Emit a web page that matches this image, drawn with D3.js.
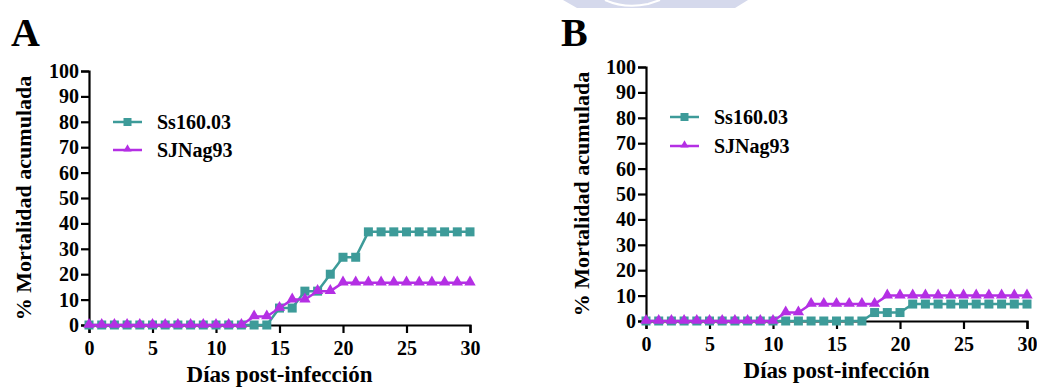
<!DOCTYPE html>
<html>
<head>
<meta charset="utf-8">
<script src="https://cdn.jsdelivr.net/npm/d3@7"></script>
<style>
  body { margin: 0; background: #fff; }
  svg text { font-family: "Liberation Serif", "Times New Roman", serif; font-weight: bold; fill: #000; }
</style>
</head>
<body>
<div id="chart"></div>
<script>
"use strict";

// data (cumulative % mortality per day)
var days = [0,1,2,3,4,5,6,7,8,9,10,11,12,13,14,15,16,17,18,19,20,21,22,23,24,25,26,27,28,29,30];
var xTicks = [0,5,10,15,20,25,30];
var yTicks = [0,10,20,30,40,50,60,70,80,90,100];
var seriesNames = ["Ss160.03", "SJNag93"];

var ssA = [0,0,0,0,0,0,0,0,0,0,0,0,0,0,0,6.67,6.67,13.33,13.33,20,26.67,26.67,36.67,36.67,36.67,36.67,36.67,36.67,36.67,36.67,36.67];
var sjA = [0,0,0,0,0,0,0,0,0,0,0,0,0,3.33,3.33,6.67,10,10,13.33,13.33,16.67,16.67,16.67,16.67,16.67,16.67,16.67,16.67,16.67,16.67,16.67];
var ssB = [0,0,0,0,0,0,0,0,0,0,0,0,0,0,0,0,0,0,3.33,3.33,3.33,6.67,6.67,6.67,6.67,6.67,6.67,6.67,6.67,6.67,6.67];
var sjB = [0,0,0,0,0,0,0,0,0,0,0,3.33,3.33,6.67,6.67,6.67,6.67,6.67,6.67,10,10,10,10,10,10,10,10,10,10,10,10];

var teal = "#3d9b99";
var violet = "#b42fe4";

var W = 1037, H = 387;

var svg = d3.select("#chart").append("svg")
  .attr("width", W)
  .attr("height", H);

// faint watermark fragment at the top edge
svg.append("path")
  .attr("d", "M563,0 L748,0 L735,8 L577,8 Z")
  .attr("fill", "#d5d9ec");
svg.append("path")
  .attr("d", "M605,0 Q625,9 648,4 L660,0")
  .attr("fill", "none")
  .attr("stroke", "#fff")
  .attr("stroke-width", 2);

var panels = [
  { letter: "A", lx: 11, ly: 46, left: 89, right: 470, top: 71, bottom: 325, titleX: 31,
    legX: 113, legY: [122, 150], ss: ssA, sj: sjA },
  { letter: "B", lx: 561, ly: 46, left: 646, right: 1027, top: 67, bottom: 321, titleX: 589,
    legX: 670, legY: [117, 146], ss: ssB, sj: sjB }
];

var triangle = d3.symbol().type(d3.symbolTriangle).size(56);

panels.forEach(function(p) {
  var x = d3.scaleLinear().domain([0, 30]).range([p.left, p.right]);
  var y = d3.scaleLinear().domain([0, 100]).range([p.bottom, p.top]);

  var g = svg.append("g");

  g.append("text")
    .attr("x", p.lx)
    .attr("y", p.ly)
    .attr("font-size", "40px")
    .text(p.letter);

  // axes
  var yAxis = d3.axisLeft(y).tickValues(yTicks).tickSize(8).tickPadding(2);
  var xAxis = d3.axisBottom(x).tickValues(xTicks).tickSize(8).tickPadding(8);

  var ya = g.append("g")
    .attr("transform", "translate(" + p.left + ",0)")
    .call(yAxis);
  var xa = g.append("g")
    .attr("transform", "translate(0," + p.bottom + ")")
    .call(xAxis);

  [ya, xa].forEach(function(a) {
    a.attr("font-family", null).attr("font-size", null);
    a.selectAll("path, line").attr("stroke", "#000").attr("stroke-width", 2.2);
    a.selectAll("text")
      .attr("font-size", "20px")
      .attr("fill", "#000");
  });

  // axis titles
  g.append("text")
    .attr("transform", "translate(" + p.titleX + "," + ((p.top + p.bottom) / 2) + ") rotate(-90)")
    .attr("text-anchor", "middle")
    .attr("font-size", "22px")
    .text("% Mortalidad acumulada");

  g.append("text")
    .attr("x", (p.left + p.right) / 2)
    .attr("y", p.bottom + 57)
    .attr("text-anchor", "middle")
    .attr("font-size", "23px")
    .text("Días post-infección");

  var line = d3.line()
    .x(function(d, i) { return x(days[i]); })
    .y(function(d) { return y(d); });

  // Ss160.03 (teal squares)
  g.append("path")
    .datum(p.ss)
    .attr("d", line)
    .attr("fill", "none")
    .attr("stroke", teal)
    .attr("stroke-width", 2.5);
  g.selectAll(".sq")
    .data(p.ss)
    .join("rect")
      .attr("class", "sq")
      .attr("x", function(d, i) { return x(days[i]) - 4.5; })
      .attr("y", function(d) { return y(d) - 4.5; })
      .attr("width", 9)
      .attr("height", 9)
      .attr("fill", teal);

  // SJNag93 (violet triangles)
  g.append("path")
    .datum(p.sj)
    .attr("d", line)
    .attr("fill", "none")
    .attr("stroke", violet)
    .attr("stroke-width", 2.5);
  g.selectAll(".tri")
    .data(p.sj)
    .join("path")
      .attr("class", "tri")
      .attr("d", triangle)
      .attr("transform", function(d, i) { return "translate(" + x(days[i]) + "," + (y(d) - 0.5) + ")"; })
      .attr("fill", violet);

  // legend
  var colors = [teal, violet];
  seriesNames.forEach(function(name, k) {
    var ly = p.legY[k];
    g.append("line")
      .attr("x1", p.legX).attr("x2", p.legX + 29)
      .attr("y1", ly).attr("y2", ly)
      .attr("stroke", colors[k])
      .attr("stroke-width", 2.5);
    if (k === 0) {
      g.append("rect")
        .attr("x", p.legX + 10.5).attr("y", ly - 4)
        .attr("width", 8).attr("height", 8)
        .attr("fill", colors[k]);
    } else {
      g.append("path")
        .attr("d", d3.symbol().type(d3.symbolTriangle).size(30))
        .attr("transform", "translate(" + (p.legX + 14.5) + "," + (ly - 1) + ")")
        .attr("fill", colors[k]);
    }
    g.append("text")
      .attr("x", p.legX + 44)
      .attr("y", ly + 7)
      .attr("font-size", "20px")
      .text(name);
  });
});
</script>
</body>
</html>
